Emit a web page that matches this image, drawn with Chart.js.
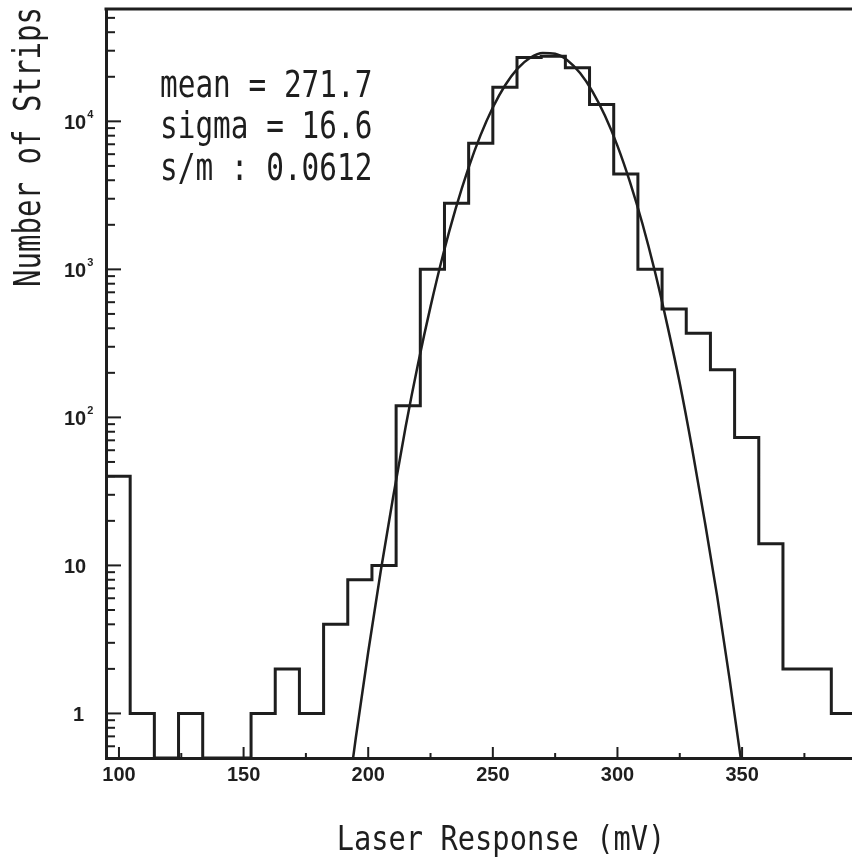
<!DOCTYPE html>
<html lang="en">
<head>
    <meta charset="UTF-8">
    <title>Laser Response</title>
    <script src="https://cdn.jsdelivr.net/npm/chart.js"></script>
    <style>
        body { margin: 0; background: #fff; }
        .wrap { width: 852px; height: 858px; position: relative; }
    </style>
</head>
<body>
    <div class="wrap">
        <canvas id="laserChart"></canvas>
    </div>

    <script>
        // histogram bins (mV) and counts
        const binEdges = [94.8, 104.5, 114.2, 123.9, 133.6, 143.3, 153.0, 162.7, 172.4, 182.1,
            191.8, 201.5, 211.2, 220.9, 230.6, 240.3, 250.0, 259.7, 269.4, 279.1,
            288.8, 298.5, 308.2, 317.9, 327.6, 337.3, 347.0, 356.7, 366.4, 376.1,
            385.8, 395.5];
        const binCounts = [40, 1, 0, 1, 0, 0, 1, 2, 1, 4,
            8, 10, 120, 1000, 2800, 7100, 17000, 27000, 27500, 23000,
            13000, 4400, 1000, 540, 370, 210, 73, 14, 2, 2,
            1];

        // gaussian fit curve
        const fitX = [190, 195, 200, 205, 210, 215, 220, 225, 230, 235, 240, 245, 250, 255, 260, 265,
            270, 275, 280, 285, 290, 295, 300, 305, 310, 315, 320, 325, 330, 335, 340, 345, 350, 355];
        const fitY = [0.16, 0.68, 2.6, 9.1, 29, 86, 230, 560, 1250, 2540, 4720, 8010, 12400, 17600, 22800, 26900,
            29000, 28600, 25800, 21200, 15900, 10900, 6830, 3900, 2040, 970, 420, 170, 61, 20, 6.2, 1.7, 0.43, 0.1];

        const xTickValues = [100, 150, 200, 250, 300, 350];
        const xMinorTicks = [125, 175, 225, 275, 325, 375];
        const yDecades = [1, 10, 100, 1000, 10000];
        const yDecadeBase = ['1', '10', '10', '10', '10'];
        const yDecadeExp = ['', '', '2', '3', '4'];
        const statLines = ['mean = 271.7', 'sigma = 16.6', 's/m : 0.0612'];

        const X_MIN = 94.8, X_MAX = 394.1;
        const Y_MIN = 0.5, Y_MAX = 57400;
        const INK = '#1e1e1e';
        const MONO = 'DejaVu Sans Mono';

        const histPoints = binEdges.map((e, i) => {
            const c = binCounts[Math.min(i, binCounts.length - 1)];
            return { x: e, y: c > 0 ? c : Y_MIN };
        });
        const fitPoints = fitX.map((x, i) => ({ x: x, y: fitY[i] }));

        function condensedText(ctx, text, x, y, font, charWidth, align) {
            ctx.font = font;
            const adv = ctx.measureText('0').width;
            const sx = charWidth / adv;
            const w = ctx.measureText(text).width * sx;
            ctx.save();
            ctx.translate(align === 'center' ? x - w / 2 : x, y);
            ctx.scale(sx, 1);
            ctx.textAlign = 'left';
            ctx.fillText(text, 0, 0);
            ctx.restore();
        }

        const decorPlugin = {
            id: 'decor',
            afterDraw(chart) {
                const ctx = chart.ctx;
                const area = chart.chartArea;
                const xs = chart.scales.x, ys = chart.scales.y;
                ctx.save();
                ctx.strokeStyle = INK;
                ctx.fillStyle = INK;
                ctx.lineCap = 'butt';

                // top frame line
                ctx.lineWidth = 3;
                ctx.beginPath();
                ctx.moveTo(area.left - 1.5, area.top);
                ctx.lineTo(area.right, area.top);
                ctx.stroke();

                // x ticks (inside)
                ctx.lineWidth = 2;
                xTickValues.forEach(v => {
                    const px = xs.getPixelForValue(v);
                    ctx.beginPath();
                    ctx.moveTo(px, area.bottom);
                    ctx.lineTo(px, area.bottom - 11);
                    ctx.stroke();
                });
                xMinorTicks.forEach(v => {
                    const px = xs.getPixelForValue(v);
                    ctx.beginPath();
                    ctx.moveTo(px, area.bottom);
                    ctx.lineTo(px, area.bottom - 5);
                    ctx.stroke();
                });

                // y ticks (inside), decades longer
                for (let k = -1; k <= 4; k++) {
                    for (let m = 1; m <= 9; m++) {
                        const v = m * Math.pow(10, k);
                        if (v <= Y_MIN || v > Y_MAX) continue;
                        const py = ys.getPixelForValue(v);
                        ctx.beginPath();
                        ctx.moveTo(area.left, py);
                        ctx.lineTo(area.left + (m === 1 ? 15 : 9), py);
                        ctx.stroke();
                    }
                }

                // y labels 1, 10, 10^2 ...
                ctx.textBaseline = 'middle';
                ctx.textAlign = 'left';
                yDecades.forEach((v, i) => {
                    const py = ys.getPixelForValue(v) + 2;
                    ctx.font = 'bold 20px "Liberation Sans"';
                    const base = yDecadeBase[i];
                    const bx = base === '1' ? 73 : 64;
                    ctx.fillText(base, bx, py);
                    if (yDecadeExp[i]) {
                        const bw = ctx.measureText(base).width;
                        ctx.font = 'bold 11px "Liberation Sans"';
                        ctx.fillText(yDecadeExp[i], bx + bw + 1, py - 8);
                    }
                });

                // fit results
                ctx.textBaseline = 'alphabetic';
                const statBase = [97, 138, 180];
                statLines.forEach((s, i) => {
                    condensedText(ctx, s, 160, statBase[i], '38px "' + MONO + '"', 17.7, 'left');
                });

                // axis titles
                condensedText(ctx, 'Laser Response (mV)', 501, 850, '34px "' + MONO + '"', 17.3, 'center');
                ctx.save();
                ctx.translate(40, 147);
                ctx.rotate(-Math.PI / 2);
                condensedText(ctx, 'Number of Strips', 0, 0, '37px "' + MONO + '"', 17.5, 'center');
                ctx.restore();

                ctx.restore();
            }
        };

        new Chart(document.getElementById('laserChart'), {
            type: 'line',
            data: {
                datasets: [{
                    label: 'Strips',
                    data: histPoints,
                    stepped: 'before',
                    borderColor: INK,
                    borderWidth: 3,
                    pointRadius: 0,
                    fill: false
                }, {
                    label: 'Fit',
                    data: fitPoints,
                    borderColor: INK,
                    borderWidth: 2.5,
                    pointRadius: 0,
                    cubicInterpolationMode: 'monotone',
                    fill: false
                }]
            },
            options: {
                responsive: true,
                maintainAspectRatio: false,
                animation: false,
                layout: { padding: { top: 9, right: 0, left: 0, bottom: 0 } },
                plugins: {
                    legend: { display: false },
                    tooltip: { enabled: false }
                },
                scales: {
                    x: {
                        type: 'linear',
                        min: X_MIN,
                        max: X_MAX,
                        afterBuildTicks: (scale) => {
                            scale.ticks = xTickValues.map(v => ({ value: v }));
                        },
                        afterFit: (scale) => { scale.height = 100; },
                        ticks: {
                            autoSkip: false,
                            maxRotation: 0,
                            padding: 5,
                            color: INK,
                            font: { family: 'Liberation Sans', size: 20, weight: 'bold' }
                        },
                        grid: { display: false, drawTicks: false },
                        border: { display: true, width: 3, color: INK }
                    },
                    y: {
                        type: 'logarithmic',
                        min: Y_MIN,
                        max: Y_MAX,
                        afterFit: (scale) => { scale.width = 106; },
                        ticks: { display: false },
                        grid: { display: false, drawTicks: false },
                        border: { display: true, width: 3, color: INK }
                    }
                }
            },
            plugins: [decorPlugin]
        });
    </script>
</body>
</html>
